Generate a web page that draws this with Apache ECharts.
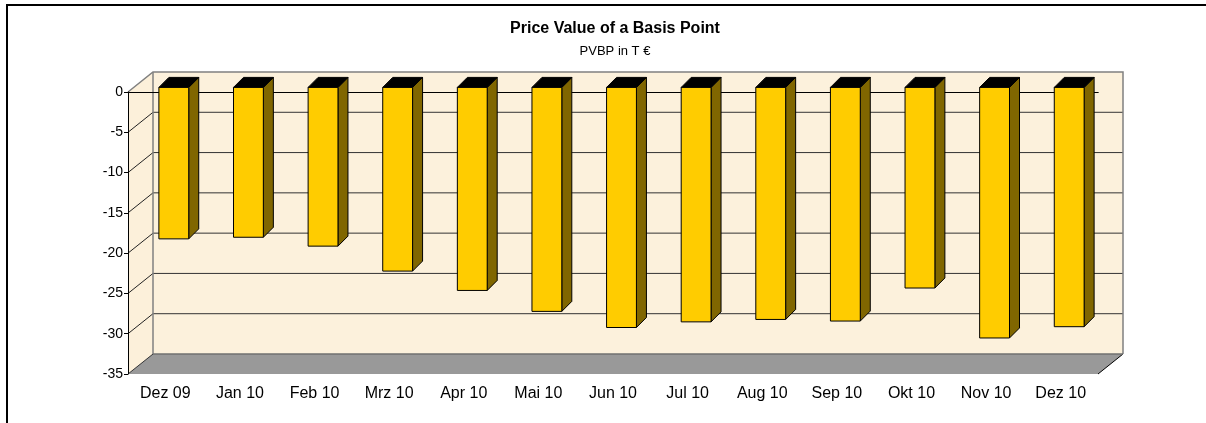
<!DOCTYPE html>
<html>
<head>
<meta charset="utf-8">
<script src="https://cdn.jsdelivr.net/npm/echarts@6/dist/echarts.min.js"></script>
<style>
  html, body { margin: 0; padding: 0; background: #fff; }
  #chart { width: 1206px; height: 423px; }
</style>
</head>
<body>
<div id="chart"></div>
<script>
var months = ["Dez 09", "Jan 10", "Feb 10", "Mrz 10", "Apr 10", "Mai 10", "Jun 10",
              "Jul 10", "Aug 10", "Sep 10", "Okt 10", "Nov 10", "Dez 10"];
var pvbp = [-18.8, -18.6, -19.7, -22.8, -25.2, -27.8, -29.8, -29.1, -28.8, -29.0, -24.9, -31.1, -29.7];
var yTicks = [0, -5, -10, -15, -20, -25, -30, -35];

// depth of the fake 3d box
var DX = 25, DY = -20;
// bar placement inside the box
var BOX = 8.5, BOY = -4.6, BDX = 10, BDY = -10;

var chart = echarts.init(document.getElementById("chart"));

function renderWalls(params, api) {
    var cs = params.coordSys;
    var x0 = cs.x, x1 = cs.x + cs.width, yt = cs.y, yb = cs.y + cs.height;
    var kids = [];
    // back wall
    kids.push({ type: "rect", shape: { x: x0 + DX, y: yt + DY, width: cs.width, height: cs.height },
        style: { fill: "#fcf1dc", stroke: null } });
    // left wall
    kids.push({ type: "polygon", shape: { points: [[x0, yt], [x0 + DX, yt + DY], [x0 + DX, yb + DY], [x0, yb]] },
        style: { fill: "#fcf0da", stroke: null } });
    // grid lines on back and left wall
    yTicks.forEach(function (t) {
        if (t === 0 || t === -35) return;
        var y = api.coord([0, t])[1];
        kids.push({ type: "line", shape: { x1: x0 + DX, y1: y + DY, x2: x1 + DX, y2: y + DY },
            style: { stroke: "#333", lineWidth: 1 } });
        kids.push({ type: "line", shape: { x1: x0, y1: y, x2: x0 + DX, y2: y + DY },
            style: { stroke: "#222", lineWidth: 1 } });
    });
    // floor
    kids.push({ type: "polygon", shape: { points: [[x0, yb], [x1, yb], [x1 + DX, yb + DY], [x0 + DX, yb + DY]] },
        style: { fill: "#999999", stroke: null } });
    kids.push({ type: "line", shape: { x1: x0, y1: yb, x2: x0 + DX, y2: yb + DY }, style: { stroke: "#333", lineWidth: 1 } });
    kids.push({ type: "line", shape: { x1: x1, y1: yb, x2: x1 + DX, y2: yb + DY }, style: { stroke: "#000", lineWidth: 1 } });
    // wall edges
    kids.push({ type: "polyline", shape: { points: [[x0, yt], [x0 + DX, yt + DY], [x1 + DX, yt + DY], [x1 + DX, yb + DY]] },
        style: { stroke: "#808080", lineWidth: 1.5, fill: null } });
    kids.push({ type: "line", shape: { x1: x0 + DX, y1: yt + DY, x2: x0 + DX, y2: yb + DY }, style: { stroke: "#808080", lineWidth: 1.5 } });
    kids.push({ type: "line", shape: { x1: x0 + DX, y1: yb + DY, x2: x1 + DX, y2: yb + DY }, style: { stroke: "#707070", lineWidth: 1.5 } });
    return { type: "group", children: kids };
}

function renderBar(params, api) {
    var i = api.value(0), v = api.value(1);
    var p0 = api.coord([i, 0]), p1 = api.coord([i, v]);
    var bw = api.size([1, 0])[0] * 0.4;
    var xa = p0[0] + BOX - bw / 2, xb = xa + bw;
    var ya = p0[1] + BOY, yb = p1[1] + BOY;
    var ln = { stroke: "#000", lineWidth: 1, lineJoin: "round" };
    return {
        type: "group",
        children: [
            { type: "polygon", shape: { points: [[xb, ya], [xb + BDX, ya + BDY], [xb + BDX, yb + BDY], [xb, yb]] },
              style: Object.assign({ fill: "#806600" }, ln) },
            { type: "polygon", shape: { points: [[xa, ya], [xa + BDX, ya + BDY], [xb + BDX, ya + BDY], [xb, ya]] },
              style: Object.assign({ fill: "#000000" }, ln) },
            { type: "rect", shape: { x: xa, y: ya, width: bw, height: yb - ya },
              style: Object.assign({ fill: "#ffcc00" }, ln) }
        ]
    };
}

var option = {
    animation: false,
    backgroundColor: "#ffffff",
    textStyle: { fontFamily: "Liberation Sans, Arial, sans-serif" },
    title: {
        text: "Price Value of a Basis Point",
        subtext: "PVBP in T €",
        left: 610,
        textAlign: "center",
        top: 16,
        itemGap: 8,
        textStyle: { fontSize: 16, fontWeight: "bold", color: "#000", fontFamily: "Liberation Sans, Arial, sans-serif" },
        subtextStyle: { fontSize: 13, color: "#000", fontFamily: "Liberation Sans, Arial, sans-serif" }
    },
    graphic: [{
        type: "rect",
        shape: { x: 7, y: 5, width: 1220, height: 440 },
        style: { fill: null, stroke: "#000", lineWidth: 2 },
        z: 10
    }],
    grid: { left: 128, right: 108, top: 92, bottom: 49 },
    xAxis: [{
        type: "category",
        data: months,
        position: "bottom",
        z: 2,
        axisLine: { lineStyle: { color: "#000", width: 1 } },
        axisTick: { length: 4, lineStyle: { color: "#000" } },
        axisLabel: { color: "#000", fontSize: 16, margin: 12, interval: 0 },
        splitLine: { show: false }
    }, {
        type: "category",
        data: months,
        position: "top",
        z: 2,
        axisLine: { lineStyle: { color: "#000", width: 1 } },
        axisTick: { inside: true, length: 4, lineStyle: { color: "#000" } },
        axisLabel: { show: false },
        splitLine: { show: false }
    }],
    yAxis: {
        type: "value",
        min: -35,
        max: 0,
        interval: 5,
        z: 2,
        axisLine: { show: true, lineStyle: { color: "#000", width: 1 } },
        axisTick: { show: true, length: 4, lineStyle: { color: "#000" } },
        axisLabel: { color: "#000", fontSize: 14, margin: 5 },
        splitLine: { show: false }
    },
    series: [{
        type: "custom",
        name: "walls",
        z: 1,
        silent: true,
        data: [[0, 0]],
        renderItem: renderWalls
    }, {
        type: "custom",
        name: "PVBP",
        z: 3,
        data: pvbp.map(function (v, i) { return [i, v]; }),
        renderItem: renderBar
    }]
};

chart.setOption(option);
</script>
</body>
</html>
